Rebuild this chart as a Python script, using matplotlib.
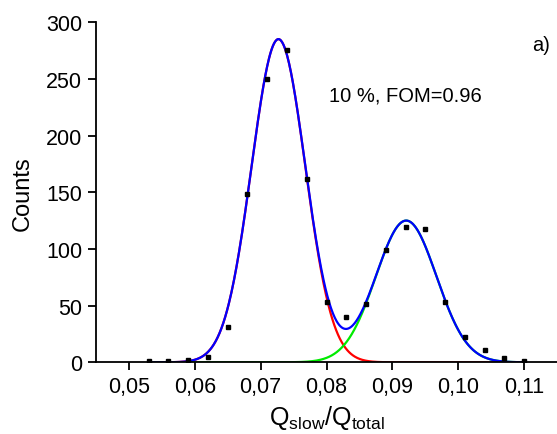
import numpy as np
import matplotlib
matplotlib.use("Agg")
import matplotlib.pyplot as plt
from matplotlib.ticker import FuncFormatter

plt.rcParams['font.family'] = ['Liberation Sans', 'DejaVu Sans']
plt.rcParams['mathtext.fontset'] = 'custom'
plt.rcParams['mathtext.rm'] = 'Liberation Sans'

# measured histogram
q_ratio = [0.053, 0.056, 0.059, 0.062, 0.065, 0.068, 0.071, 0.074, 0.077, 0.080,
           0.083, 0.086, 0.089, 0.092, 0.095, 0.098, 0.101, 0.104, 0.107, 0.110]
counts = [1, 1, 2, 5, 31, 148, 250, 275, 162, 53,
          40, 51, 99, 119, 118, 53, 22, 11, 4, 1]

# two-gaussian fit: (amplitude, centre, sigma)
peak_gamma = (285.0, 0.0727, 0.00408)
peak_neutron = (125.0, 0.0921, 0.0046)

x_ticks = [0.05, 0.06, 0.07, 0.08, 0.09, 0.10, 0.11]
y_ticks = [0, 50, 100, 150, 200, 250, 300]


def gauss(x, amp, mu, sig):
    return amp * np.exp(-0.5 * ((x - mu) / sig) ** 2)


xf = np.linspace(q_ratio[0], q_ratio[-1], 600)
g1 = gauss(xf, *peak_gamma)
g2 = gauss(xf, *peak_neutron)

fig = plt.figure(figsize=(5.57, 4.35), dpi=100)
ax = fig.add_axes([0.1724, 0.1648, 0.8276, 0.782])

ax.plot(xf, g1, color=(1, 0, 0), lw=1.6)
ax.plot(xf, g2, color=(0, 0.92, 0), lw=1.6)
ax.plot(xf, g1 + g2, color=(0, 0, 1), lw=1.6)
ax.plot(q_ratio, counts, 's', color='black', ms=3.3, zorder=5)

ax.set_xlim(0.045, 0.115)
ax.set_ylim(0, 300)
ax.set_xticks(x_ticks)
ax.set_yticks(y_ticks)
ax.xaxis.set_major_formatter(FuncFormatter(lambda v, p: f"{v:.2f}".replace('.', ',')))
ax.tick_params(direction='out', length=6, width=1.3, labelsize=15.5, pad=4)

for side in ['top', 'right']:
    ax.spines[side].set_visible(False)
for side in ['left', 'bottom']:
    ax.spines[side].set_linewidth(1.3)

ax.set_xlabel(r'$\mathregular{Q_{slow}/Q_{total}}$', fontsize=18, labelpad=4)
ax.set_ylabel('Counts', fontsize=17, labelpad=9)

ax.text(0.505, 0.785, '10 %, FOM=0.96', transform=ax.transAxes, fontsize=14.5, va='center')
ax.text(0.946, 0.935, 'a)', transform=ax.transAxes, fontsize=14.5, va='center')

plt.savefig('out.png', dpi=100)
